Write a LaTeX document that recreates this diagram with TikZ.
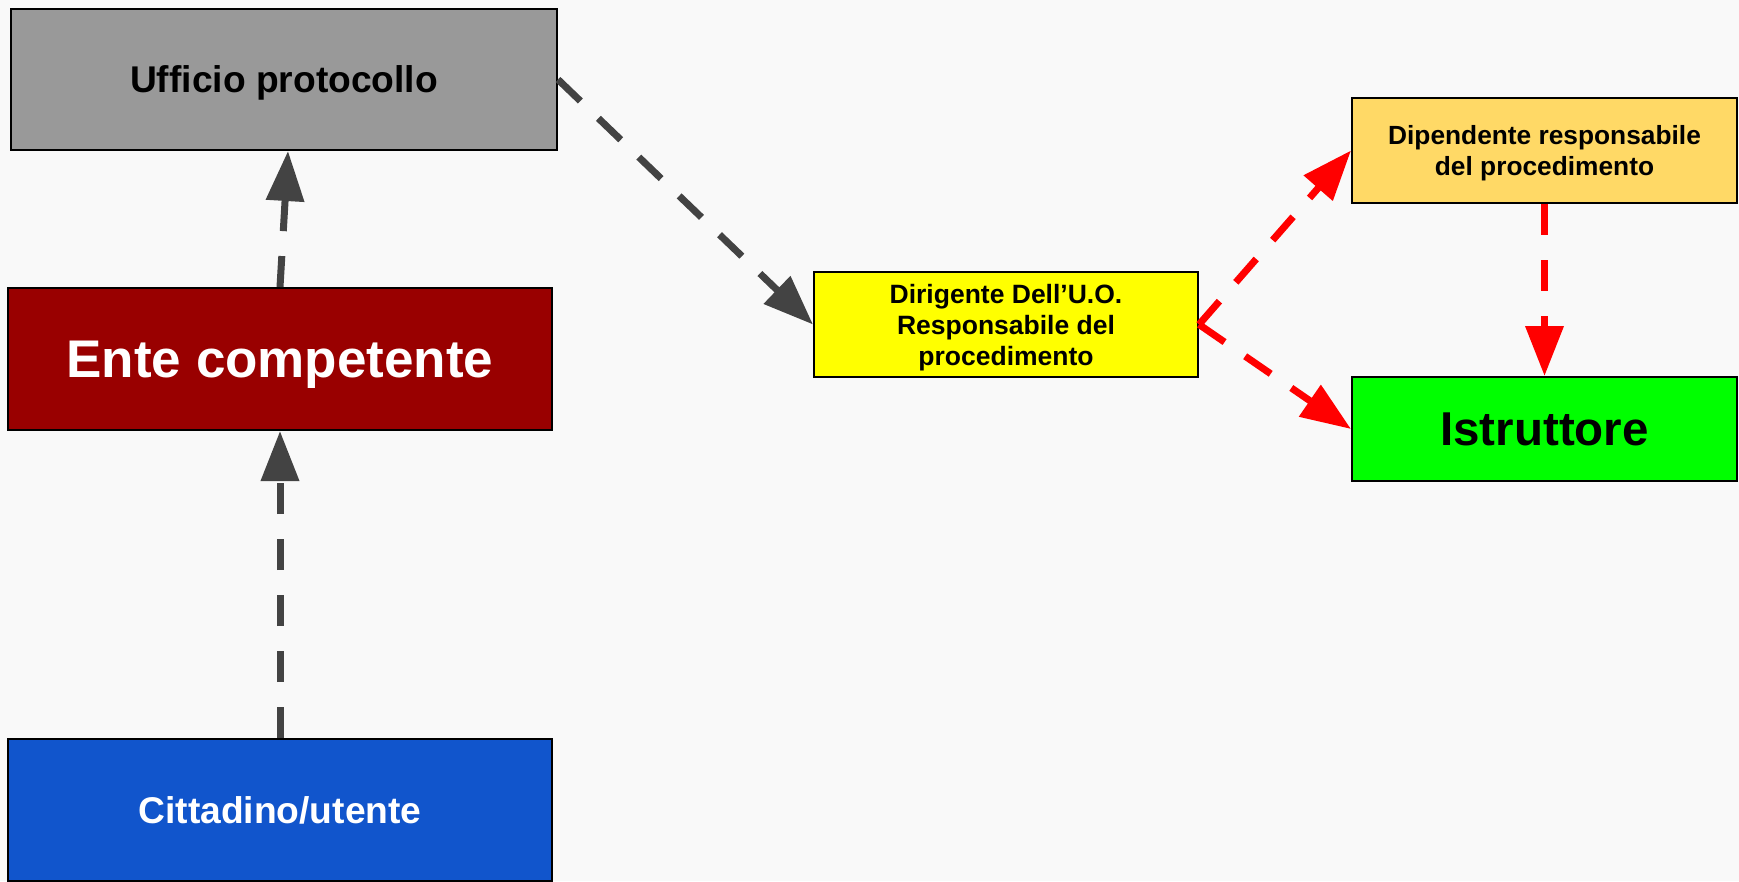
\documentclass[tikz,border=0pt]{standalone}
\usepackage{fontspec}
\setmainfont{Liberation Sans}
\usetikzlibrary{arrows.meta}
\definecolor{bgc}{HTML}{F9F9F9}
\definecolor{uffc}{HTML}{999999}
\definecolor{entec}{HTML}{990000}
\definecolor{cittc}{HTML}{1155CC}
\definecolor{dirc}{HTML}{FFFF00}
\definecolor{dipc}{HTML}{FFD966}
\definecolor{istc}{HTML}{00FF00}
\definecolor{greyarr}{HTML}{434343}
\definecolor{redarr}{HTML}{FF0000}
\tikzset{
  box/.style={draw=black, line width=2pt, rectangle, inner sep=0pt, align=center, text depth=0pt, font=\bfseries},
  darr/.style={line width=7pt, dash pattern=on 31pt off 25pt, -{Triangle[length=50pt,width=37pt]}},
  garr/.style={darr, draw=greyarr},
  rarr/.style={darr, draw=redarr},
}
\begin{document}
\begin{tikzpicture}[x=1pt, y=-1pt]
\fill[bgc] (0,0) rectangle (1739,881);
\useasboundingbox (0,0) rectangle (1739,881);

\node[box, fill=uffc, minimum width=546pt, minimum height=141pt,
      font=\bfseries\fontsize{37.2}{45}\selectfont] (uff) at (284,79.5) {Ufficio protocollo};
\node[box, fill=entec, text=white, minimum width=544pt, minimum height=142pt,
      font=\bfseries\fontsize{53}{63}\selectfont] (ente) at (280,359) {Ente competente};
\node[box, fill=cittc, text=white, minimum width=544pt, minimum height=142pt,
      font=\bfseries\fontsize{37.2}{45}\selectfont] (citt) at (280,810) {Cittadino/utente};
\node[box, fill=dirc, minimum width=384pt, minimum height=105pt,
      font=\bfseries\fontsize{26.5}{31}\selectfont] (dir) at (1006,324.5)
      {Dirigente Dell’U.O.\\Responsabile del\\procedimento};
\node[box, fill=dipc, minimum width=385pt, minimum height=105pt,
      font=\bfseries\fontsize{26.3}{31}\selectfont] (dip) at (1544.5,150.5)
      {Dipendente responsabile\\del procedimento};
\node[box, fill=istc, minimum width=385pt, minimum height=104pt,
      font=\bfseries\fontsize{47.5}{57}\selectfont] (ist) at (1544.5,429) {Istruttore};

\draw[garr] (citt.north) -- (ente.south);
\draw[garr] (ente.north) -- ([xshift=4pt]uff.south);
\draw[garr] (uff.east) -- (dir.west);
\draw[rarr] (dir.east) -- (dip.west);
\draw[rarr] (dir.east) -- (ist.west);
\draw[rarr] (dip.south) -- (ist.north);
\end{tikzpicture}
\end{document}
